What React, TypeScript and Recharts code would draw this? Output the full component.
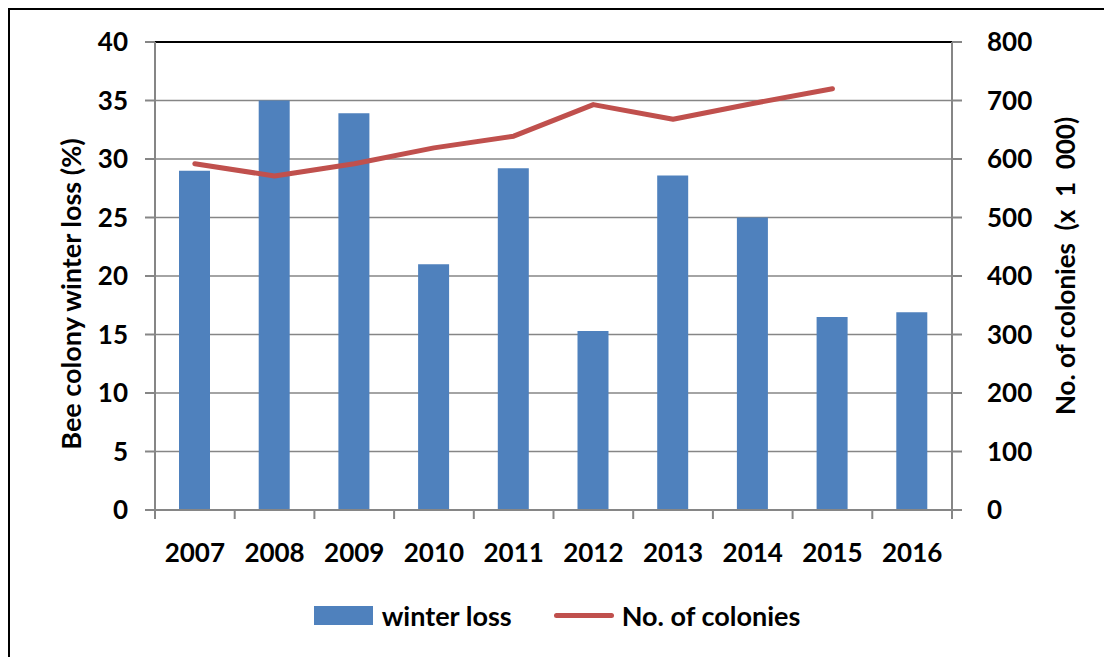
import {
  ComposedChart,
  Bar,
  Line,
  XAxis,
  YAxis,
  CartesianGrid,
  Legend,
  ReferenceLine,
  Label,
} from "recharts";

const years = ["2007", "2008", "2009", "2010", "2011", "2012", "2013", "2014", "2015", "2016"];
const winterLoss = [29.0, 35.0, 33.9, 21.0, 29.2, 15.3, 28.6, 25.0, 16.5, 16.9];
const colonies = [592, 571, 592, 619, 639, 693, 668, 695, 720, null];
const leftTicks = [0, 5, 10, 15, 20, 25, 30, 35, 40];
const rightTicks = [0, 100, 200, 300, 400, 500, 600, 700, 800];
const legendOrder = ["winter loss", "No. of colonies"];

const data = years.map((year, i) => ({
  year,
  loss: winterLoss[i],
  colonies: colonies[i],
}));

const FONT = "Lato, 'Open Sans', sans-serif";
const GRAY = "#868686";
const BLUE = "#4F81BD";
const RED = "#C0504D";

const tickStyle = { fontFamily: FONT, fontWeight: 700, fontSize: 26, fill: "#000" };

// x ticks sit between categories, labels in the middle
function YearTick(props: any) {
  const { x, y, payload, index } = props;
  const off = payload.offset || 0;
  return (
    <g>
      <line x1={x - off} y1={y} x2={x - off} y2={y + 9} stroke={GRAY} strokeWidth={2} />
      {index === years.length - 1 && (
        <line x1={x + off} y1={y} x2={x + off} y2={y + 9} stroke={GRAY} strokeWidth={2} />
      )}
      <text x={x} y={y + 42} textAnchor="middle" dominantBaseline="central" style={tickStyle}>
        {payload.value}
      </text>
    </g>
  );
}

function LegendBox(props: any) {
  const items = [...(props.payload || [])].sort(
    (a: any, b: any) => legendOrder.indexOf(a.value) - legendOrder.indexOf(b.value)
  );
  return (
    <div
      style={{
        height: 40,
        display: "flex",
        justifyContent: "center",
        alignItems: "center",
        fontFamily: FONT,
        fontWeight: 700,
        fontSize: 27,
        color: "#000",
      }}
    >
      {items.map((it: any, i: number) => (
        <div key={i} style={{ display: "flex", alignItems: "center", marginLeft: i ? 42 : 0 }}>
          {it.type === "rect" ? (
            <div style={{ width: 59, height: 19, background: it.color, marginRight: 9 }} />
          ) : (
            <div style={{ width: 60, height: 5, borderRadius: 3, background: it.color, marginRight: 8 }} />
          )}
          <span>{it.value}</span>
        </div>
      ))}
    </div>
  );
}

export default function App() {
  return (
    <div
      style={{
        position: "absolute",
        left: 8,
        top: 8,
        width: 1096,
        height: 649,
        borderTop: "2px solid #000",
        borderLeft: "2px solid #000",
        background: "#fff",
      }}
    >
      <ComposedChart
        width={1094}
        height={647}
        data={data}
        barSize={31}
        margin={{ top: 32, right: 0, left: 0, bottom: 22 }}
      >
        <CartesianGrid yAxisId="left" vertical={false} stroke={GRAY} strokeWidth={1.5} />
        <XAxis
          dataKey="year"
          height={85}
          tickSize={0}
          tickMargin={0}
          tickLine={false}
          axisLine={{ stroke: GRAY, strokeWidth: 2 }}
          tick={<YearTick />}
          interval={0}
        />
        <YAxis
          yAxisId="left"
          width={145}
          domain={[0, 40]}
          ticks={leftTicks}
          tickSize={10}
          tickMargin={17}
          tick={tickStyle}
          tickLine={{ stroke: GRAY, strokeWidth: 2 }}
          axisLine={{ stroke: GRAY, strokeWidth: 2 }}
        >
          <Label
            content={(p: any) => {
              const vb = p.viewBox;
              const cx = vb.x + 60;
              const cy = vb.y + vb.height / 2 + 18;
              return (
                <text
                  x={cx}
                  y={cy}
                  transform={`rotate(-90 ${cx} ${cy})`}
                  textAnchor="middle"
                  dominantBaseline="central"
                  style={{ ...tickStyle, fontSize: 27 }}
                >
                  Bee colony winter loss (%)
                </text>
              );
            }}
          />
        </YAxis>
        <YAxis
          yAxisId="right"
          orientation="right"
          width={152}
          domain={[0, 800]}
          ticks={rightTicks}
          tickSize={10}
          tickMargin={25}
          tick={{ ...tickStyle, textAnchor: "start" }}
          tickLine={{ stroke: GRAY, strokeWidth: 2 }}
          axisLine={{ stroke: GRAY, strokeWidth: 2 }}
        >
          <Label
            content={(p: any) => {
              const vb = p.viewBox;
              const cx = vb.x + 113;
              const cy = vb.y + vb.height / 2 - 10;
              return (
                <text
                  x={cx}
                  y={cy}
                  transform={`rotate(-90 ${cx} ${cy})`}
                  textAnchor="middle"
                  dominantBaseline="central"
                  style={{ ...tickStyle, fontSize: 26, whiteSpace: "pre" }}
                >
                  {"No. of colonies  (x  1  000)"}
                </text>
              );
            }}
          />
        </YAxis>
        <ReferenceLine yAxisId="left" y={40} stroke="#000" strokeWidth={2} />
        <Bar yAxisId="left" dataKey="loss" name="winter loss" fill={BLUE} legendType="rect" isAnimationActive={false} />
        <Line
          yAxisId="right"
          dataKey="colonies"
          name="No. of colonies"
          stroke={RED}
          strokeWidth={5}
          strokeLinecap="round"
          strokeLinejoin="round"
          dot={false}
          activeDot={false}
          legendType="line"
          isAnimationActive={false}
        />
        <Legend verticalAlign="bottom" content={<LegendBox />} />
      </ComposedChart>
    </div>
  );
}
